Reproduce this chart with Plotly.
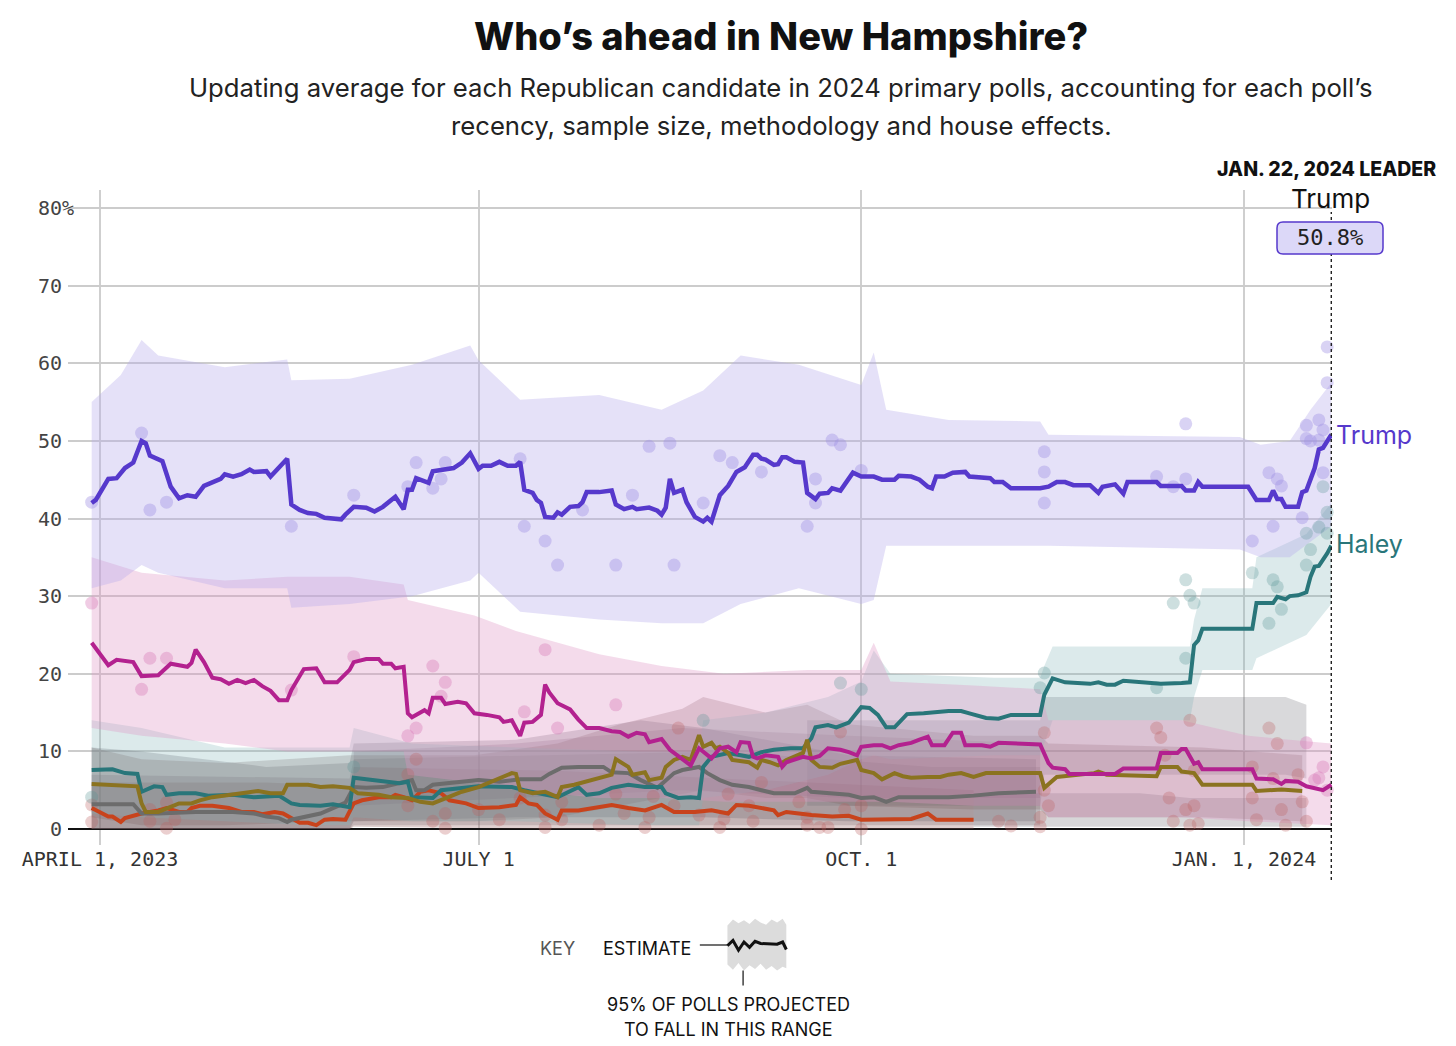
import pandas as pd
import plotly.graph_objects as go

BASE = pd.Timestamp("2023-04-01")  # day 0 of the day-offset arrays below

# ---------------- estimate lines (day offset from April 1, 2023 -> percent) ----------------
trump_days = [-2, -1, 2, 4, 6, 8, 10, 11, 12, 15, 17, 19, 21, 23, 25, 26, 27, 29, 30, 32, 34, 36, 37, 40, 41, 43, 45, 46,
              48, 50, 52, 54, 58, 59, 61, 64, 66, 68, 71, 73, 74, 75, 76, 79, 80, 85, 87, 89, 91, 92, 94, 96, 98, 100,
              101, 102, 104, 105, 106, 107, 109, 110, 111, 113, 115, 116, 117, 120, 123, 124, 126, 128, 129, 132, 134,
              135, 136, 137, 138, 140, 141, 143, 145, 146, 147, 149, 151, 153, 155, 157, 158, 159, 160, 162, 163, 164,
              165, 167, 169, 170, 172, 173, 175, 176, 178, 181, 183, 186, 188, 191, 192, 195, 197, 199, 200, 201, 203,
              205, 208, 209, 214, 215, 217, 219, 226, 228, 230, 232, 234, 238, 240, 241, 243, 244, 246, 247, 254, 255,
              260, 261, 263, 264, 265, 276, 278, 281, 282, 283, 284, 285, 288, 289, 290, 292, 293, 294, 296]
trump_vals = [42.0, 42.4, 45.1, 45.2, 46.5, 47.2, 50.0, 49.7, 48.1, 47.4, 44.1, 42.6, 43.0, 42.8, 44.2, 44.4, 44.7, 45.1,
              45.7, 45.4, 45.7, 46.3, 46.0, 46.1, 45.4, 46.5, 47.7, 41.8, 41.1, 40.7, 40.6, 40.1, 39.9, 40.5, 41.5, 41.4,
              40.9, 41.5, 42.8, 41.2, 43.7, 43.7, 45.2, 44.6, 46.1, 46.5, 47.2, 48.4, 46.4, 46.8, 46.8, 47.3, 46.8, 46.8,
              47.3, 43.7, 43.3, 42.4, 42.0, 40.2, 40.1, 40.8, 40.5, 41.5, 41.6, 42.1, 43.4, 43.4, 43.6, 41.8, 41.2, 41.5,
              41.2, 41.4, 41.0, 40.5, 41.4, 45.1, 43.3, 43.7, 42.1, 40.2, 39.6, 40.1, 39.6, 43.0, 44.2, 46.0, 46.6, 48.2,
              48.2, 47.7, 47.6, 46.9, 47.0, 47.9, 47.9, 47.3, 47.2, 43.3, 42.5, 43.2, 43.3, 43.9, 43.6, 45.9, 45.4, 45.4,
              45.0, 45.0, 45.5, 45.4, 45.0, 44.1, 43.9, 45.4, 45.4, 45.9, 46.0, 45.4, 45.2, 44.7, 44.7, 43.9, 43.9, 44.1,
              44.7, 44.7, 44.3, 44.3, 43.3, 44.1, 44.4, 44.4, 43.2, 44.7, 44.7, 44.2, 44.2, 43.6, 43.6, 44.7, 44.1, 44.1,
              42.4, 42.4, 43.6, 42.5, 42.5, 41.5, 41.5, 43.4, 43.6, 46.5, 48.9, 49.1, 50.8]

desantis_days = [-2, 2, 4, 8, 10, 14, 17, 19, 21, 22, 23, 25, 27, 29, 31, 33, 35, 37, 39, 41, 43, 45, 46, 49, 52, 54, 57,
                 60, 61, 64, 67, 68, 70, 71, 73, 74, 75, 78, 79, 80, 82, 83, 86, 88, 90, 93, 96, 97, 99, 101, 102, 104,
                 106, 107, 108, 110, 113, 115, 117, 120, 123, 125, 127, 129, 131, 132, 135, 137, 139, 142, 144, 147,
                 149, 151, 153, 154, 156, 157, 158, 160, 163, 164, 165, 168, 169, 171, 173, 175, 178, 180, 182, 183,
                 186, 188, 190, 192, 195, 197, 199, 200, 203, 205, 207, 208, 212, 214, 216, 226, 228, 229, 232, 233,
                 244, 246, 254, 255, 259, 260, 261, 263, 264, 265, 277, 278, 282, 284, 285, 288, 290, 294, 296]
desantis_vals = [24.0, 21.1, 21.8, 21.5, 19.7, 19.8, 21.3, 21.1, 20.9, 21.4, 23.1, 21.5, 19.5, 19.3, 18.7, 19.2, 18.8,
                 19.2, 18.4, 17.8, 16.6, 16.6, 17.9, 20.6, 20.7, 18.9, 18.9, 20.5, 21.5, 21.9, 21.9, 21.3, 21.3, 20.7,
                 20.9, 14.9, 14.4, 15.3, 14.9, 16.9, 16.9, 16.1, 16.4, 16.2, 14.9, 14.7, 14.4, 13.8, 14.0, 12.0, 13.7,
                 13.8, 14.7, 18.6, 17.6, 16.2, 15.4, 14.1, 13.0, 13.0, 12.6, 12.5, 11.9, 12.4, 12.2, 11.2, 11.6, 10.2,
                 9.4, 8.2, 10.4, 9.1, 10.4, 10.6, 9.9, 11.2, 11.1, 9.3, 9.1, 9.5, 9.3, 8.0, 8.6, 9.1, 9.3, 9.1, 9.4,
                 10.4, 10.2, 9.9, 9.5, 10.6, 10.8, 10.8, 10.4, 10.8, 11.1, 11.5, 11.9, 10.8, 10.8, 12.4, 12.4, 10.8,
                 10.8, 10.6, 11.1, 10.9, 8.5, 7.9, 7.7, 7.1, 7.1, 7.8, 7.8, 9.8, 9.8, 10.3, 10.3, 8.4, 8.6, 7.7, 7.7,
                 6.5, 6.4, 5.8, 6.2, 6.1, 5.5, 5.0, 5.7]

haley_days = [-2, 3, 6, 9, 10, 13, 15, 16, 19, 23, 26, 32, 37, 43, 46, 48, 53, 56, 60, 61, 64, 68, 72, 74, 75, 80, 82,
              91, 99, 102, 110, 115, 117, 120, 123, 127, 131, 135, 136, 139, 142, 144, 145, 147, 151, 154, 156, 159,
              162, 166, 169, 171, 172, 175, 177, 180, 183, 185, 187, 189, 191, 194, 198, 204, 207, 209, 213, 216, 219,
              226, 227, 229, 232, 238, 240, 242, 244, 246, 255, 260, 262, 263, 264, 265, 277, 278, 282, 283, 285, 286,
              288, 290, 291, 292, 293, 295, 296]
haley_vals = [7.6, 7.7, 7.2, 7.1, 4.8, 5.5, 5.4, 4.4, 4.6, 4.6, 4.3, 4.4, 4.1, 4.3, 3.3, 3.1, 3.0, 3.2, 2.8, 6.6, 6.4, 6.2,
              5.9, 6.1, 4.1, 4.0, 5.0, 5.5, 5.4, 5.0, 4.1, 5.4, 4.4, 4.6, 5.3, 5.7, 5.4, 5.4, 4.6, 4.0, 4.1, 4.0, 8.0,
              9.3, 9.8, 9.5, 9.3, 9.9, 10.2, 10.4, 10.4, 11.7, 13.1, 13.4, 13.1, 13.7, 15.7, 15.6, 14.7, 13.1, 13.1,
              14.8, 14.9, 15.2, 15.2, 14.9, 14.3, 14.2, 14.7, 14.7, 17.3, 19.4, 18.9, 18.7, 18.9, 18.6, 18.6, 19.1,
              18.7, 18.8, 18.9, 23.7, 24.3, 25.8, 25.8, 29.1, 29.1, 29.9, 29.6, 30.0, 30.1, 30.5, 32.5, 33.8, 33.9,
              35.5, 36.5]

olive_days = [-2, 2, 8, 9, 10, 11, 14, 17, 19, 22, 24, 27, 31, 34, 38, 41, 44, 45, 50, 53, 56, 60, 62, 67, 70, 74, 77,
              80, 83, 87, 91, 95, 99, 100, 101, 104, 107, 110, 111, 114, 117, 120, 123, 124, 127, 128, 131, 132, 135,
              136, 138, 140, 142, 144, 145, 147, 148, 149, 151, 152, 156, 158, 159, 161, 163, 165, 167, 169, 170, 171,
              173, 176, 178, 180, 182, 183, 186, 188, 191, 193, 195, 199, 202, 204, 207, 210, 213, 216, 226, 227, 230,
              239, 240, 242, 254, 255, 259, 260, 263, 265, 277, 278, 283, 284, 289]
olive_vals = [5.8, 5.7, 5.5, 5.5, 3.3, 2.2, 2.2, 2.8, 3.3, 3.3, 3.7, 4.1, 4.4, 4.6, 4.9, 4.6, 4.6, 5.7, 5.7, 5.4, 5.5,
              5.3, 4.6, 4.4, 4.1, 4.0, 3.5, 3.3, 4.0, 4.8, 5.4, 6.3, 7.2, 7.1, 5.0, 4.6, 4.8, 4.1, 5.4, 5.7, 6.1, 6.6,
              7.0, 9.0, 8.0, 7.0, 7.3, 6.3, 6.6, 8.0, 8.9, 9.3, 8.9, 12.1, 10.6, 11.1, 10.4, 10.6, 9.8, 8.9, 8.6, 7.9,
              8.9, 8.6, 8.2, 8.9, 9.3, 9.8, 11.5, 8.9, 8.0, 7.9, 8.4, 8.6, 8.9, 7.6, 7.2, 6.4, 7.2, 6.8, 6.6, 6.7,
              6.7, 7.0, 7.2, 6.7, 7.2, 7.2, 7.2, 5.3, 6.7, 7.2, 7.4, 7.0, 6.8, 8.0, 8.0, 7.4, 7.2, 5.7, 5.7, 4.9, 5.0,
              5.1, 4.9]

gray_days = [-2, 8, 10, 14, 23, 32, 37, 40, 43, 45, 46, 50, 53, 56, 59, 61, 64, 68, 72, 75, 76, 78, 80, 84, 91, 96, 101,
             106, 108, 111, 115, 121, 123, 127, 130, 134, 136, 138, 140, 143, 144, 146, 149, 152, 156, 159, 162, 167,
             170, 171, 176, 180, 183, 186, 189, 192, 199, 204, 210, 216, 225]
gray_vals = [3.2, 3.2, 2.0, 2.0, 2.2, 2.2, 2.0, 1.6, 1.4, 0.9, 1.2, 1.6, 2.0, 2.7, 3.4, 5.4, 5.3, 5.4, 5.9, 6.3, 5.0, 5.0,
             5.7, 5.9, 6.3, 6.1, 6.4, 6.4, 7.1, 7.9, 8.0, 8.0, 7.3, 7.2, 6.3, 5.3, 6.3, 7.2, 7.6, 7.9, 8.0, 7.2, 6.3,
             5.7, 5.4, 5.0, 4.6, 4.6, 5.3, 4.8, 4.6, 4.4, 4.0, 4.1, 3.5, 4.1, 4.1, 4.1, 4.3, 4.6, 4.8]

red_days = [-2, 0, 2, 3, 5, 6, 9, 10, 14, 16, 19, 21, 22, 24, 27, 31, 34, 37, 39, 42, 44, 46, 48, 50, 52, 54, 56, 59, 61,
            63, 66, 67, 70, 71, 73, 75, 77, 79, 82, 84, 88, 91, 96, 100, 101, 103, 105, 107, 110, 111, 115, 120, 123,
            127, 131, 135, 138, 143, 147, 151, 153, 156, 159, 162, 163, 165, 168, 171, 176, 180, 183, 188, 192, 195,
            199, 201, 205, 210]
red_vals = [2.7, 2.2, 1.6, 1.6, 0.9, 1.4, 1.8, 2.0, 2.4, 2.7, 2.2, 2.2, 2.7, 3.0, 3.0, 2.7, 2.2, 2.2, 1.9, 2.2, 2.0, 1.4,
            0.8, 0.8, 0.5, 1.2, 1.3, 1.2, 3.3, 3.7, 4.0, 4.1, 4.1, 4.4, 4.1, 3.7, 4.8, 5.0, 4.6, 3.7, 3.3, 2.7, 2.8,
            3.1, 4.1, 3.3, 3.1, 2.0, 1.2, 2.4, 2.4, 2.8, 3.1, 2.7, 2.4, 3.1, 2.2, 2.2, 2.4, 2.0, 3.1, 3.0, 2.7, 2.4,
            1.8, 2.2, 2.0, 1.8, 1.6, 1.7, 1.2, 1.2, 1.3, 1.3, 2.0, 1.2, 1.2, 1.2]

# ---------------- 95% ranges (day offset, upper, lower) ----------------
trump_band_days = [-2, 5, 10, 14, 30, 45, 46, 60, 75, 89, 91, 101, 120, 135, 145, 154, 168, 183, 186, 189, 204, 226,
                   228, 274, 279, 286, 291, 296]
trump_band_hi = [55.0, 58.5, 63.0, 61.0, 59.5, 60.5, 57.8, 58.0, 59.8, 62.3, 60.4, 55.3, 55.9, 54.0, 56.5, 61.0, 59.8,
                 57.2, 61.4, 54.0, 52.7, 52.5, 50.8, 50.5, 49.5, 50.0, 54.0, 57.5]
trump_band_lo = [31.0, 32.0, 34.0, 33.0, 31.0, 31.0, 28.5, 29.0, 30.0, 32.0, 33.0, 28.0, 27.0, 26.5, 26.5, 29.0, 31.0,
                 29.0, 29.5, 36.5, 36.5, 36.5, 36.5, 36.0, 35.0, 35.0, 37.0, 39.0]

desantis_band_days = [-2, 10, 30, 45, 60, 73, 74, 90, 100, 110, 120, 135, 150, 170, 183, 186, 190, 210, 226, 228, 260,
                      276, 296]
desantis_band_hi = [35.0, 33.0, 32.0, 32.5, 32.5, 31.5, 29.5, 27.5, 25.5, 24.0, 22.5, 21.0, 20.0, 20.5, 20.5, 24.0,
                    19.0, 18.5, 18.0, 14.0, 14.0, 12.0, 11.0]
desantis_band_lo = [13.0, 12.0, 11.0, 10.0, 10.0, 10.0, 7.0, 6.0, 5.0, 4.5, 4.0, 4.0, 3.5, 3.5, 3.5, 3.5, 3.5, 3.0,
                    3.0, 1.5, 1.5, 1.0, 0.5]

haley_band_days = [-2, 10, 30, 50, 60, 61, 75, 100, 130, 144, 145, 160, 175, 183, 186, 190, 215, 226, 227, 229, 262,
                   263, 265, 277, 278, 290, 296]
haley_band_hi = [14.0, 13.0, 10.5, 10.5, 10.5, 13.0, 11.0, 10.5, 10.0, 10.0, 14.0, 15.0, 17.0, 19.0, 23.0, 20.0, 19.5,
                 19.5, 21.0, 23.5, 23.5, 27.0, 31.0, 31.0, 35.0, 38.0, 42.0]
haley_band_lo = [2.0, 1.5, 1.0, 0.5, 0.5, 1.5, 1.0, 1.0, 0.5, 0.5, 4.0, 5.0, 7.0, 9.0, 9.5, 9.0, 9.5, 9.5, 11.0, 14.0,
                 14.0, 17.0, 20.5, 20.5, 22.0, 25.0, 29.0]

olive_band_days = [-2, 10, 30, 60, 90, 110, 125, 140, 145, 160, 170, 180, 210, 226, 228, 265, 289]
olive_band_hi = [10.5, 9.0, 8.5, 9.5, 9.5, 11.0, 13.5, 15.5, 17.0, 15.0, 16.0, 13.5, 12.0, 12.0, 11.0, 10.5, 9.5]
olive_band_lo = [1.5, 0.5, 0.5, 1.0, 1.0, 1.5, 3.0, 4.5, 5.0, 4.0, 4.0, 3.0, 2.5, 2.5, 1.5, 1.5, 1.0]

gray_band_days = [-2, 10, 40, 60, 61, 100, 130, 145, 180, 225]
gray_band_hi = [10.5, 10.0, 8.0, 8.5, 11.0, 11.5, 14.0, 13.0, 9.5, 9.0]
gray_band_lo = [0.0, 0.0, 0.0, 0.0, 1.0, 1.5, 1.5, 1.5, 1.0, 1.0]

red_band_days = [-2, 40, 60, 61, 110, 150, 210]
red_band_hi = [6.0, 6.0, 5.5, 8.0, 7.5, 6.5, 5.0]
red_band_lo = [0.0, 0.0, 0.0, 0.3, 0.0, 0.0, 0.0]

other1_band_days = [170, 226, 227, 285, 290]
other1_band_hi = [14.0, 14.0, 17.0, 17.0, 16.0]
other1_band_lo = [3.0, 3.0, 7.0, 7.0, 6.5]

other2_band_days = [210, 250, 262, 290]
other2_band_hi = [4.6, 4.6, 4.0, 4.0]
other2_band_lo = [0.3, 0.3, 0.3, 0.3]

other3_band_days = [-2, 60, 61, 150, 200, 226]
other3_band_hi = [7.0, 6.5, 9.0, 10.0, 8.0, 8.0]
other3_band_lo = [0.0, 0.0, 0.5, 0.5, 0.5, 0.5]

other4_band_days = [61, 100, 140, 180, 226]
other4_band_hi = [10.0, 11.0, 13.0, 12.0, 11.0]
other4_band_lo = [3.0, 4.0, 5.0, 4.0, 4.0]

# ---------------- individual polls (day offset, percent) ----------------
trump_poll_days = [-2, 10, 12, 16, 46, 61, 74, 76, 80, 82, 83, 101, 102, 107, 110, 116, 124, 128, 132, 137, 138, 145,
                   149, 152, 159, 170, 172, 172, 176, 178, 183, 227, 227, 227, 254, 258, 261, 261, 277, 281, 282, 283,
                   284, 289, 290, 290, 291, 293, 293, 294, 294, 295, 295]
trump_poll_vals = [42.1, 51.0, 41.1, 42.1, 39.0, 43.0, 44.1, 47.2, 43.9, 45.1, 47.2, 47.7, 39.0, 37.1, 34.0, 41.1, 34.0,
                   43.0, 49.3, 49.7, 34.0, 42.0, 48.1, 47.2, 46.0, 39.0, 42.0, 45.1, 50.1, 49.5, 46.2, 48.6, 46.0, 42.0,
                   45.4, 44.1, 52.2, 45.1, 37.1, 45.9, 39.0, 45.1, 44.2, 40.1, 52.0, 50.3, 50.0, 52.7, 50.1, 51.4, 45.9,
                   62.1, 57.5]

desantis_poll_days = [-2, 10, 12, 16, 46, 61, 74, 76, 80, 82, 83, 102, 107, 110, 124, 290, 292, 293, 294, 295]
desantis_poll_vals = [29.1, 18.0, 22.0, 22.0, 17.9, 22.2, 12.0, 13.0, 21.0, 17.1, 18.9, 15.1, 23.1, 13.0, 16.0, 11.1,
                      6.3, 6.6, 8.0, 5.0]

haley_poll_days = [-2, 61, 145, 178, 183, 226, 227, 254, 258, 261, 261, 262, 263, 277, 281, 282, 283, 284, 290, 290,
                   291, 293, 294, 295, 295]
haley_poll_vals = [4.1, 8.0, 14.0, 18.8, 18.0, 18.2, 20.1, 18.2, 29.1, 32.1, 22.0, 30.1, 29.1, 33.0, 26.5, 32.1, 31.2,
                   28.3, 34.0, 38.1, 36.0, 38.9, 44.1, 38.1, 40.8]

other_poll_days = [-2, -2, 12, 12, 16, 16, 18, 74, 76, 74, 80, 83, 83, 91, 96, 101, 107, 107, 111, 111, 120, 124, 126,
                   131, 132, 133, 138, 139, 144, 149, 150, 151, 156, 157, 159, 168, 170, 170, 173, 175, 178, 179, 183,
                   183, 216, 219, 226, 226, 227, 227, 228, 254, 255, 256, 257, 258, 261, 262, 262, 263, 263, 264, 277,
                   277, 278, 281, 282, 283, 284, 285, 288, 289, 290]
other_poll_vals = [3.1, 0.9, 1.0, 2.5, 3.4, 0.1, 1.2, 7.0, 9.0, 3.0, 1.0, 2.0, 0.1, 2.5, 1.2, 4.0, 0.2, 1.8, 3.5, 1.2,
                   0.5, 4.5, 2.0, 0.2, 1.5, 4.2, 3.0, 13.0, 1.8, 0.2, 1.3, 4.5, 3.0, 1.0, 6.0, 3.5, 0.5, 1.5, 0.2, 0.2,
                   12.5, 2.5, 0.0, 3.0, 1.0, 0.4, 1.5, 0.3, 12.4, 5.0, 3.0, 13.0, 11.8, 9.5, 4.0, 1.0, 2.5, 0.5, 14.0,
                   7.5, 3.0, 0.7, 8.0, 4.0, 1.2, 13.0, 6.5, 11.0, 2.5, 0.5, 7.0, 3.5, 1.0]

# ---------------- key glyph ----------------
key_x = [3.2, 3.8, 4.4, 5.0, 5.6, 6.2, 6.8, 7.4, 8.0, 8.6, 9.2, 9.6]
key_est = [5.9, 6.6, 5.3, 6.4, 5.7, 6.5, 6.2, 6.2, 6.1, 6.1, 6.4, 5.4]
key_hi = [8.6, 9.4, 8.9, 9.3, 8.8, 9.5, 9.0, 8.7, 9.4, 9.0, 9.5, 8.7]
key_lo = [3.4, 2.7, 3.6, 2.6, 3.3, 2.8, 3.5, 2.7, 3.2, 2.6, 3.1, 2.9]

x_tick_dates = ["2023-04-01", "2023-07-01", "2023-10-01", "2024-01-01"]
x_tick_text = ["APRIL 1, 2023", "JULY 1", "OCT. 1", "JAN. 1, 2024"]
y_tick_vals = [0, 10, 20, 30, 40, 50, 60, 70, 80]
NB = "\u00a0"
y_tick_text = ["0" + NB, "10" + NB, "20" + NB, "30" + NB, "40" + NB, "50" + NB, "60" + NB, "70" + NB, "80%"]

TRUMP, DESANTIS, HALEY = "#5639cc", "#b3218f", "#29767a"
OLIVE, GRAY, RED = "#8b7320", "#6c6c6c", "#c8431c"

SANS = "Inter"
MONO = "DejaVu Sans Mono"


def dates(days):
    return [BASE + pd.Timedelta(days=d) for d in days]


fig = go.Figure()


def add_band(days, hi, lo, color):
    d = dates(days)
    fig.add_trace(go.Scatter(x=d + d[::-1], y=hi + lo[::-1], fill="toself", fillcolor=color,
                             line=dict(width=0), mode="lines", hoverinfo="skip", showlegend=False))


add_band(red_band_days, red_band_hi, red_band_lo, "rgba(150,100,100,0.3)")
add_band(other3_band_days, other3_band_hi, other3_band_lo, "rgba(120,100,105,0.26)")
add_band(gray_band_days, gray_band_hi, gray_band_lo, "rgba(105,98,108,0.28)")
add_band(other2_band_days, other2_band_hi, other2_band_lo, "rgba(110,108,115,0.28)")
add_band(other1_band_days, other1_band_hi, other1_band_lo, "rgba(110,108,115,0.26)")
add_band(other4_band_days, other4_band_hi, other4_band_lo, "rgba(120,95,115,0.24)")
add_band(olive_band_days, olive_band_hi, olive_band_lo, "rgba(130,100,100,0.28)")
add_band(haley_band_days, haley_band_hi, haley_band_lo, "rgba(130,178,182,0.28)")
add_band(desantis_band_days, desantis_band_hi, desantis_band_lo, "rgba(222,150,196,0.34)")
add_band(trump_band_days, trump_band_hi, trump_band_lo, "rgba(180,168,236,0.35)")


def add_polls(days, vals, color):
    fig.add_trace(go.Scatter(x=dates(days), y=vals, mode="markers", cliponaxis=False,
                             marker=dict(size=13, color=color, line=dict(width=0)),
                             hoverinfo="skip", showlegend=False))


add_polls(other_poll_days, other_poll_vals, "rgba(190,95,95,0.3)")
add_polls(haley_poll_days, haley_poll_vals, "rgba(90,150,150,0.3)")
add_polls(desantis_poll_days, desantis_poll_vals, "rgba(215,120,185,0.38)")
add_polls(trump_poll_days, trump_poll_vals, "rgba(160,145,228,0.4)")


def add_line(days, vals, color, width=4.0):
    fig.add_trace(go.Scatter(x=dates(days), y=vals, mode="lines", cliponaxis=False,
                             line=dict(color=color, width=width), hoverinfo="skip", showlegend=False))


add_line(red_days, red_vals, RED)
add_line(gray_days, gray_vals, GRAY)
add_line(haley_days, haley_vals, HALEY)
add_line(olive_days, olive_vals, OLIVE)
add_line(desantis_days, desantis_vals, DESANTIS)
add_line(trump_days, trump_vals, TRUMP, 4.5)

# key glyph in its own small axes
fig.add_trace(go.Scatter(x=key_x + key_x[::-1], y=key_hi + key_lo[::-1], fill="toself", fillcolor="#dcdcdc",
                         line=dict(width=0), mode="lines", xaxis="x2", yaxis="y2", hoverinfo="skip",
                         showlegend=False))
fig.add_trace(go.Scatter(x=key_x, y=key_est, mode="lines", line=dict(color="#111", width=3),
                         xaxis="x2", yaxis="y2", hoverinfo="skip", showlegend=False))

# geometry (the page adds an 8px body margin): plot area on the page spans x 68..1332, y 190..845
OFF = 8
W, H = 1448, 1038
L, R, T, B = 60, 124, 182, 10
pw, ph = W - L - R, H - T - B


def px_x(px):
    return (px - OFF - L) / pw


def px_y(py):
    return (H - B - (py - OFF)) / ph


x_range = [BASE + pd.Timedelta(days=-7.69), BASE + pd.Timedelta(days=296.16)]

fig.update_layout(
    width=W, height=H, margin=dict(l=L, r=R, t=T, b=B),
    paper_bgcolor="white", plot_bgcolor="rgba(0,0,0,0)",
    xaxis=dict(type="date", range=x_range, domain=[0, 1], anchor="y",
               tickvals=x_tick_dates, ticktext=x_tick_text, showgrid=True, gridcolor="#cfcfcf", gridwidth=1.5,
               zeroline=False, showline=False, ticks="", tickfont=dict(family=MONO, size=20, color="#333"),
               fixedrange=True),
    yaxis=dict(range=[-2.06, 82.32], domain=[px_y(845), 1], anchor="x",
               tickvals=y_tick_vals, ticktext=y_tick_text, showgrid=True, gridcolor="#cccccc", gridwidth=1.5,
               zeroline=True, zerolinecolor="#111", zerolinewidth=1.5, showline=False, ticks="",
               ticklabelstandoff=-7, tickfont=dict(family=MONO, size=20, color="#444")),
    xaxis2=dict(domain=[px_x(698), px_x(790)], range=[0, 10], visible=False, anchor="y2"),
    yaxis2=dict(domain=[px_y(990), px_y(915)], range=[0, 10], visible=False, anchor="x2"),
    showlegend=False,
)

ann = []
ann.append(dict(text="Who’s ahead in New Hampshire?", x=px_x(781), y=px_y(36), xref="paper", yref="paper",
                showarrow=False, xanchor="center", yanchor="middle",
                font=dict(family=SANS, size=38, color="#111", weight=800)))
ann.append(dict(text="Updating average for each Republican candidate in 2024 primary polls, accounting for each poll’s",
                x=px_x(781), y=px_y(88), xref="paper", yref="paper", showarrow=False, xanchor="center",
                yanchor="middle", font=dict(family=SANS, size=25.7, color="#222")))
ann.append(dict(text="recency, sample size, methodology and house effects.",
                x=px_x(781), y=px_y(125), xref="paper", yref="paper", showarrow=False, xanchor="center",
                yanchor="middle", font=dict(family=SANS, size=25.7, color="#222")))
ann.append(dict(text="JAN. 22, 2024 LEADER", x=px_x(1438), y=px_y(169), xref="paper", yref="paper",
                showarrow=False, xanchor="right", yanchor="middle",
                font=dict(family=SANS, size=19.5, color="#111", weight=800)))
ann.append(dict(text="Trump", x=px_x(1330), y=px_y(199), xref="paper", yref="paper", showarrow=False,
                xanchor="center", yanchor="middle", font=dict(family=SANS, size=26, color="#111")))
ann.append(dict(text=f"{trump_vals[-1]:.1f}%", x=px_x(1330), y=px_y(238), xref="paper", yref="paper",
                showarrow=False, xanchor="center", yanchor="middle",
                font=dict(family=MONO, size=22, color="#222")))
ann.append(dict(text="Trump", x=dates(trump_days)[-1], y=trump_vals[-1], xref="x", yref="y", showarrow=False,
                xanchor="left", yanchor="middle", xshift=3, font=dict(family=SANS, size=25, color=TRUMP)))
ann.append(dict(text="Haley", x=dates(haley_days)[-1], y=haley_vals[-1], xref="x", yref="y", yshift=2,
                showarrow=False, xanchor="left", yanchor="middle", xshift=3,
                font=dict(family=SANS, size=25, color=HALEY)))
ann.append(dict(text="KEY", x=px_x(557), y=px_y(948), xref="paper", yref="paper", showarrow=False,
                xanchor="center", yanchor="middle", font=dict(family=SANS, size=18, color="#555")))
ann.append(dict(text="ESTIMATE", x=px_x(647), y=px_y(948), xref="paper", yref="paper", showarrow=False,
                xanchor="center", yanchor="middle", font=dict(family=SANS, size=18, color="#111")))
ann.append(dict(text="95% OF POLLS PROJECTED", x=px_x(728), y=px_y(1004), xref="paper", yref="paper",
                showarrow=False, xanchor="center", yanchor="middle", font=dict(family=SANS, size=18, color="#111")))
ann.append(dict(text="TO FALL IN THIS RANGE", x=px_x(728), y=px_y(1029), xref="paper", yref="paper",
                showarrow=False, xanchor="center", yanchor="middle", font=dict(family=SANS, size=18, color="#111")))
fig.update_layout(annotations=ann)


def rounded_box(x0p, y0p, x1p, y1p, r):
    # rounded rectangle given page pixels, expressed as a paper-coordinate path
    X = lambda p: px_x(p)
    Y = lambda p: px_y(p)
    return (f"M {X(x0p + r)},{Y(y0p)} L {X(x1p - r)},{Y(y0p)} Q {X(x1p)},{Y(y0p)} {X(x1p)},{Y(y0p + r)} "
            f"L {X(x1p)},{Y(y1p - r)} Q {X(x1p)},{Y(y1p)} {X(x1p - r)},{Y(y1p)} "
            f"L {X(x0p + r)},{Y(y1p)} Q {X(x0p)},{Y(y1p)} {X(x0p)},{Y(y1p - r)} "
            f"L {X(x0p)},{Y(y0p + r)} Q {X(x0p)},{Y(y0p)} {X(x0p + r)},{Y(y0p)} Z")


shapes = [
    dict(type="line", xref="x", yref="paper", x0=dates([296])[0], x1=dates([296])[0], y0=px_y(880), y1=px_y(212),
         line=dict(color="#222", width=1.5, dash="dot"), layer="above"),
    dict(type="path", xref="paper", yref="paper", path=rounded_box(1277, 222, 1383, 254, 6),
         fillcolor="#dcd8f8", line=dict(color=TRUMP, width=1.5), layer="above"),
    dict(type="line", xref="x2", yref="y2", x0=0.2, x1=3.2, y0=6.0, y1=6.0, line=dict(color="#111", width=1.2)),
    dict(type="line", xref="x2", yref="y2", x0=4.9, x1=4.9, y0=2.6, y1=0.6, line=dict(color="#111", width=1.2)),
]
fig.update_layout(shapes=shapes)

fig.write_html("out.html")
